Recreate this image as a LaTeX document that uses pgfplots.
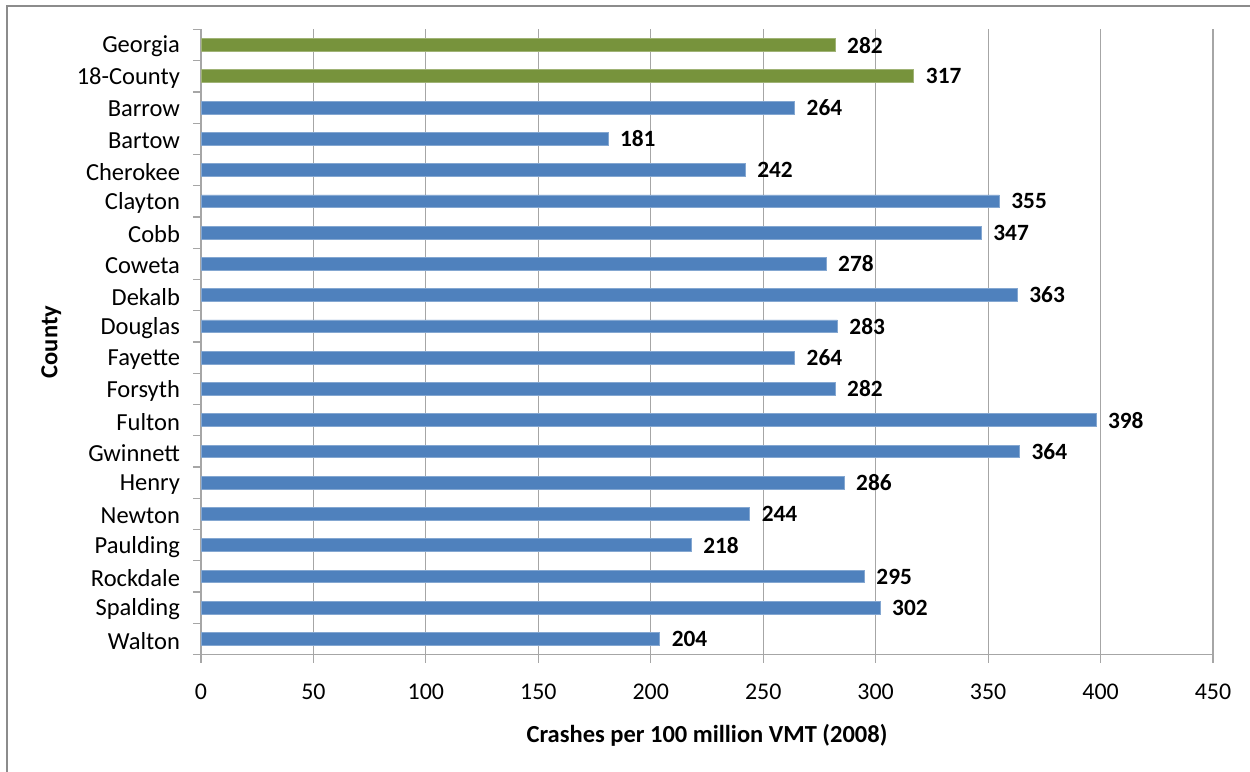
\documentclass[border=0pt]{standalone}
\usepackage{fontspec}
\setmainfont{Carlito}
\usepackage{pgfplots}
\pgfplotsset{compat=1.18}
\definecolor{barblue}{HTML}{4F81BD}
\definecolor{bargreen}{HTML}{77933C}
\definecolor{gridgray}{HTML}{A6A6A6}
\begin{document}
\begin{tikzpicture}
\useasboundingbox (0,0) rectangle (625bp,-386bp);
\draw[color=gray!90, line width=1bp] (3.5bp,-400bp) -- (3.5bp,-3bp) -- (640bp,-3bp);
\begin{axis}[
  at={(100.5bp,-327.3bp)}, anchor=south west,
  scale only axis, width=506bp, height=312.6bp,
  xmin=0, xmax=450, ymin=-0.5, ymax=19.5, y dir=reverse,
  axis x line*=bottom, axis y line*=left,
  axis line style={gridgray, line width=0.6bp},
  xtick={0,50,...,450},
  xmajorgrids, major grid style={gridgray, line width=0.6bp},
  ytick={-0.5,0.5,...,19.5},
  yticklabels={},
  extra y ticks={0,...,19},
  extra y tick labels={Georgia,18-County,Barrow,Bartow,Cherokee,Clayton,Cobb,Coweta,Dekalb,Douglas,Fayette,Forsyth,Fulton,Gwinnett,Henry,Newton,Paulding,Rockdale,Spalding,Walton},
  extra y tick style={tick style={draw=none}, yticklabel style={font=\fontsize{12.3}{14}\selectfont, xshift=-3bp, yshift=-0.8bp}},
  tick align=outside,
  major tick length=4bp,
  tick style={gridgray, line width=0.6bp},
  /pgf/number format/assume math mode=true,
  xticklabel style={font=\fontsize{12}{14}\selectfont, yshift=-7bp},
  xlabel={\textbf{Crashes per 100 million VMT (2008)}},
  ylabel={\textbf{County}},
  xlabel style={font=\fontsize{12.3}{14}\selectfont, yshift=-5.5bp},
  ylabel style={font=\fontsize{12.3}{14}\selectfont, yshift=-3bp},
  xbar, bar width=0.41, bar shift=0pt,
  nodes near coords,
  nodes near coords style={font=\fontsize{11.7}{14}\selectfont\bfseries, anchor=west, xshift=2.5bp, text=black},
  point meta=x,
]
\addplot[fill=bargreen, draw=bargreen!70!white, line width=0.4bp] coordinates {
(282,0) (317,1)
};
\addplot[fill=barblue, draw=barblue!70!white, line width=0.4bp] coordinates {
(264,2) (181,3) (242,4) (355,5) (347,6) (278,7) (363,8) (283,9) (264,10) (282,11)
(398,12) (364,13) (286,14) (244,15) (218,16) (295,17) (302,18) (204,19)
};
\end{axis}
\end{tikzpicture}
\end{document}
